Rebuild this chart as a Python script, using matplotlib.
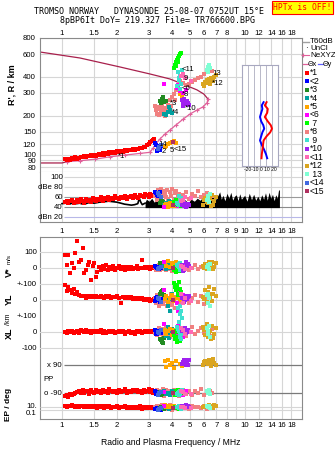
import matplotlib
matplotlib.use('Agg')
import matplotlib.pyplot as plt
import matplotlib.transforms as mtransforms
import matplotlib.ticker as mticker
from matplotlib.lines import Line2D

plt.rcParams['font.family'] = ['Liberation Sans', 'DejaVu Sans']

# ---------------------------------------------------------------- data
freq_ticks = [1, 1.5, 2, 3, 4, 5, 6, 7, 8, 9, 10, 12, 14, 16, 18]
freq_labels_edge = ['1', '1.5', '2', '3', '4', '5', '6', '7', '8', '', '10', '12', '14', '16', '18']
freq_labels_mid = ['1', '1.5', '2', '3', '4', '5', '6', '7', '8', '9', '10', '12', '14', '16', '18']
height_ticks = [80, 90, 100, 120, 150, 200, 300, 400, 600, 800]
tilt_ticks = [-20, -10, 0, 10, 20]
tilt_tick_text = '-20-10 0 10 20'

# model profile (upper branch), NeXYZ profile (lower branch) and base
prof_top_f = [0.758, 1.254, 2.077, 3.03, 3.90, 4.71, 5.48, 5.98, 6.30]
prof_top_h = [623, 560, 477, 421, 385, 346, 317, 294, 269]
prof_low_f = [6.30, 6.22, 5.91, 5.48, 5.02, 4.60, 4.20, 3.90, 3.66, 3.44, 3.27, 3.15,
              3.03, 2.67, 2.21, 1.83, 1.515, 1.254, 1.065]
prof_low_h = [269, 251, 234, 221, 206, 188, 169, 155, 144, 132, 121, 112,
              104, 102, 99, 96, 92, 89.5, 88]
prof_base_f = [0.758, 1.0, 1.065]
prof_base_h = [86, 86, 88]

# tilt inset
tilt_h = [254, 240, 225, 210, 195, 180, 168, 158, 148, 138, 128, 118, 108, 100, 93]
tilt_x = [11, 8, 13, 12, 8, 13, 18, 20, 17, 11, 6, 5, 4, 3, 2.5]
tilt_y = [6, 3, 4, 2, 0, 2, 5.5, 7, 4, 2, 0, 3, 7, 10, 12]

# noise (black) amplitude
noise_line_f = [1.0, 1.05, 1.1, 1.15, 1.2, 1.25, 1.3, 1.35, 1.4, 1.5, 1.6, 1.7, 1.8, 1.9,
                2.0, 2.1, 2.2, 2.3, 2.4, 2.5, 2.6, 2.65, 2.7, 2.75, 2.85]
noise_line_db = [47, 48, 46, 49, 47, 48, 46, 47, 49, 48, 50, 51, 52, 51,
                 50, 48, 46, 45, 44, 45, 47, 58, 50, 45, 48]
noise_fill_f = [2.85, 2.9, 3.0, 3.1, 3.2, 3.3, 3.4, 3.5, 3.7, 3.9, 4.1, 4.3, 4.5, 4.7, 4.9,
                5.1, 5.3, 5.5, 5.7, 5.9, 6.0, 6.1, 6.3, 6.5, 6.7, 6.9, 7.1, 7.3, 7.45,
                7.6, 7.8, 8.0, 8.2, 8.4, 8.6, 8.8, 9.0, 9.2, 9.4, 9.6, 9.8, 10.0, 10.3,
                10.6, 10.9, 11.2, 11.5, 11.8, 12.1, 12.4, 12.7, 13.0, 13.3, 13.6, 13.9,
                14.2, 14.5, 14.8, 15.1, 15.3, 15.5]
noise_fill_db = [50, 56, 52, 58, 50, 55, 49, 54, 50, 56,
                 49, 54, 50, 55, 49, 56, 52, 58, 54, 60,
                 68, 58, 64, 55, 66, 54, 62, 71, 56, 64,
                 53, 68, 58, 70, 54, 62, 65, 53, 67, 56,
                 60, 64, 52, 68, 55, 66, 54, 62, 53, 65,
                 56, 69, 54, 70, 58, 66, 53, 65, 58, 73,
                 76]
noise_floor_db = 39

# echo classes: frequency, height, amplitude, V*, YL, XL, PP, EP
f1 = [1.04, 1.06, 1.08, 1.11, 1.13, 1.16, 1.18, 1.21, 1.24, 1.27, 1.30, 1.32, 1.35,
      1.38, 1.41, 1.44, 1.47, 1.50, 1.53, 1.56, 1.60, 1.63, 1.67, 1.70, 1.74, 1.78,
      1.82, 1.86, 1.90, 1.95, 2.00, 2.05, 2.10, 2.15, 2.20, 2.26, 2.32, 2.38, 2.44,
      2.50, 2.56, 2.62, 2.68, 2.74, 2.80, 2.86, 2.92, 2.98, 3.04, 3.10, 3.15, 3.20]
h1 = [92, 90, 93, 91, 94, 92, 95, 93, 94, 96, 95, 97, 96, 98, 97, 99, 97, 100, 98, 99,
      101, 99, 102, 100, 103, 101, 104, 102, 105, 103, 106, 104, 107, 105, 108, 107,
      109, 108, 110, 109, 111, 110, 113, 112, 115, 114, 118, 121, 124, 127, 130, 133]
amp1 = [50, 53, 48, 52, 55, 49, 51, 54, 50, 56, 52, 49, 57, 53, 55, 51, 58, 54, 52, 57,
        55, 60, 53, 58, 56, 61, 55, 59, 57, 62, 58, 56, 61, 59, 63, 57, 60, 62, 58, 64,
        61, 59, 65, 62, 60, 66, 64, 61, 67, 63, 65, 62]
v1 = [81, 19, 81, -33, 29, 0, 92, 171, 40, 50, 123, -33, -12, 19, 40, -75, 10, 29, -54,
      -23, 8, -10, 15, -5, 20, -12, 5, -8, 10, -15, 0, 12, -6, 4, -10, 8, -4, 6, -8, 3,
      10, -5, 2, 50, -3, 6, 0, 8, -4, 5, 2, -2]
yl1 = [94, 55, 82, 62, 45, 70, 38, 48, 30, 25, 22, 28, 15, 24, 20, 26, 18, 22, 27, 16,
       20, 24, 18, 14, 22, 19, 25, 15, 21, 17, 23, 12, -20, 18, 14, 20, 10, 16, 8, 14,
       6, 12, 4, 10, 2, 8, 0, 6, -4, 3, -2, 5]
xl1 = [2, -6, 5, 0, 8, -4, 3, 6, -8, 10, 4, -2, 12, 0, 6, -5, 9, 2, -3, 7, 0, 11, -4, 5,
       -9, 3, 8, -1, 6, -6, 2, 9, -3, 4, -12, 1, 7, -7, 3, -15, 5, 0, 8, -4, 2, 6, -2,
       4, 0, 7, -3, 3]
pp1 = [-110, -100, -115, -95, -105, -98, -90, -85, -78, -92, -70, -88, -80, -75, -95,
       -68, -85, -90, -72, -82, -78, -88, -70, -84, -76, -92, -66, -80, -86, -74, -90,
       -70, -82, -78, -64, -88, -76, -84, -72, -80, -68, -86, -74, -90, -70, -82, -76,
       -66, -84, -72, -88, -78]
ep1 = [20, 12, 25, 15, 30, 18, 10, 22, 14, 28, 16, 9, 24, 12, 19, 8, 26, 13, 17, 7, 21,
       11, 15, 6, 23, 10, 18, 5, 14, 9, 20, 4, 12, 8, 16, 5, 11, 7, 13, 4, 10, 6, 15, 3,
       9, 5, 12, 4, 8, 6, 10, 5]

f2 = [3.27, 3.35, 3.44, 3.31, 3.40, 3.48, 3.23]
h2 = [119, 112, 108, 106, 117, 116, 123]
amp2 = [68, 62, 70, 64, 66, 59, 71]
v2 = [5, -3, 8, 0, -6, 3, 10]
yl2 = [15, 5, -10, 20, 0, 8, -5]
xl2 = [-10, 5, 0, -15, 8, -4, 12]
pp2 = [-95, -88, -100, -85, -92, -98, -80]
ep2 = [2, 3, 1.5, 4, 2.5, 1.2, 3]

f3 = [3.44, 3.53, 3.62, 3.49, 3.58, 3.70]
h3 = [259, 270, 255, 250, 279, 262]
amp3 = [48, 52, 45, 55, 50, 47]
v3 = [30, 22, 38, 15, 26, 10]
yl3 = [40, 55, 30, 48, 62, 20]
xl3 = [-45, -60, -38, -52, -68, -20]
pp3 = [-85, -95, -78, -100, -88, -92]
ep3 = [5, 8, 3, 12, 6, 4]

f4 = [3.62, 3.71, 3.81, 3.90, 4.00, 3.85]
h4 = [206, 203, 214, 221, 210, 234]
amp4 = [44, 48, 42, 50, 46, 53]
v4 = [12, -8, 25, 5, 18, -2]
yl4 = [60, 20, -40, -70, 35, 5]
xl4 = [10, -25, 30, -5, 20, -35]
pp4 = [-80, -96, -88, -104, -76, -90]
ep4 = [8, 15, 5, 20, 10, 3]

f5 = [3.66, 3.71, 3.81, 3.90, 4.00, 4.08, 4.20, 4.42, 4.54]
h5 = [114, 116, 121, 123, 125, 128, 123, 293, 284]
amp5 = [44, 46, 41, 48, 43, 45, 42, 50, 47]
v5 = [40, 15, 45, 5, 30, 20, 35, -5, 10]
yl5 = [5, 25, -15, 10, 30, -5, 15, 0, 20]
xl5 = [15, -10, 5, 20, -20, 10, 0, -8, 25]
pp5 = [115, 78, 125, 92, 105, 70, 118, 96, 85]
ep5 = [30, 12, 20, 8, 25, 15, 10, 18, 6]

f6 = [3.62, 4.26, 4.42, 4.30, 4.60, 4.75]
h6 = [352, 328, 310, 346, 300, 318]
amp6 = [40, 45, 48, 43, 52, 46]
v6 = [35, 10, -8, 20, 5, 28]
yl6 = [60, -20, 45, -70, 30, 10]
xl6 = [50, -15, 25, 40, -30, 5]
pp6 = [-84, -96, -76, -90, -100, -80]
ep6 = [15, 6, 22, 9, 4, 12]

f7 = [4.11, 4.15, 4.20, 4.26, 4.31, 4.37, 4.42, 4.48, 4.20, 4.31]
h7 = [468, 495, 523, 540, 559, 580, 601, 613, 486, 523]
amp7 = [50, 46, 53, 48, 44, 51, 47, 42, 55, 49]
v7 = [-10, 8, -25, 15, 0, -18, 22, 5, -5, 12]
yl7 = [105, 80, 60, 95, 40, 110, 70, 50, 88, 30]
xl7 = [-20, -45, 5, -60, -30, 10, -55, -10, -38, 0]
pp7 = [-88, -100, -80, -94, -72, -104, -86, -92, -78, -98]
ep7 = [6, 10, 4, 14, 8, 3, 12, 5, 9, 7]

f8 = [3.23, 3.27, 3.31, 3.35, 3.40, 3.44, 3.48, 3.53, 3.57, 3.62, 3.66, 3.71, 3.76,
      3.81, 3.90, 3.95, 4.00, 4.10, 4.15, 4.20, 4.31, 4.37, 4.42, 4.60, 4.77, 4.96,
      5.15, 5.35, 5.55, 5.76, 5.98, 6.22, 6.46, 6.63]
h8 = [238, 221, 207, 234, 203, 225, 214, 238, 207, 221, 199, 229, 214, 244, 264, 238,
      279, 296, 264, 317, 334, 352, 372, 359, 346, 352, 365, 378, 392, 400, 420, 436,
      460, 444]
amp8 = [62, 70, 55, 74, 66, 58, 77, 64, 52, 72, 68, 60, 75, 57, 71, 63, 76, 54, 69, 73,
        61, 66, 59, 64, 70, 56, 67, 62, 72, 60, 65, 68, 58, 63]
v8 = [5, -10, 12, -4, 18, -15, 8, 0, -8, 22, 3, -12, 10, -6, 15, 2, -18, 6, -2, 12,
      -10, 4, 20, -5, 9, -14, 1, 16, -8, 6, -3, 11, 0, -6]
yl8 = [10, -20, 30, 0, -35, 18, -10, 40, -25, 8, -5, 25, -40, 12, -15, 35, -30, 5, -50,
       20, -60, -20, 15, -8, 28, -18, 10, 32, -12, 22, -28, 14, 38, -6]
xl8 = [-5, 15, -20, 8, 25, -12, 0, 18, -28, 5, -15, 22, -8, 12, -30, 3, 20, -18, 10,
       -40, 6, 28, -10, 15, -22, 2, 30, -14, 8, 24, -6, 12, -25, 18]
pp8 = [-80, -95, -70, -105, -85, -75, -100, -90, -65, -110, -82, -72, -98, -88, -78,
       -104, -92, -68, -86, -96, -74, -108, -84, -70, -94, -80, -102, -76, -90, -66,
       -100, -86, -74, -92]
ep8 = [12, 4, 25, 8, 1.5, 18, 6, 30, 3, 10, 20, 2, 15, 5, 35, 9, 1, 22, 7, 14, 3, 28,
       11, 4, 16, 2, 24, 8, 13, 5, 19, 3, 10, 6]

f9 = [4.31, 4.42, 4.37, 4.48, 4.26, 4.54, 4.42, 4.35]
h9 = [436, 406, 378, 352, 337, 453, 322, 390]
amp9 = [47, 52, 44, 58, 49, 55, 45, 62]
v9 = [10, -12, 25, 0, 18, -6, 30, 5]
yl9 = [-50, -90, -140, -70, -180, -110, -40, -160]
xl9 = [20, -30, 5, -45, 30, -15, -5, 12]
pp9 = [-90, -78, -102, -86, -96, -70, -94, -84]
ep9 = [9, 5, 16, 3, 11, 7, 20, 4]

f10 = [4.54, 4.65, 4.77, 4.71, 4.60, 4.83, 4.90, 4.68, 4.95, 4.58]
h10 = [264, 255, 246, 260, 238, 259, 250, 270, 242, 250]
amp10 = [44, 48, 41, 46, 50, 43, 47, 42, 45, 49]
v10 = [20, -10, 35, 5, -20, 15, 28, -5, 10, 0]
yl10 = [10, -15, 25, 0, -20, 18, 5, -8, 28, 12]
xl10 = [5, 20, -5, 28, 10, -2, 15, 24, 0, 8]
pp10 = [98, 120, 92, 125, 106, 114, 88, 102, 122, 110]
ep10 = [25, 12, 30, 18, 10, 22, 15, 28, 8, 20]

f11 = [4.60, 4.71, 4.48, 5.10]
h11 = [420, 392, 406, 372]
amp11 = [55, 60, 52, 58]
v11 = [5, -8, 12, 0]
yl11 = [-20, 15, 40, -5]
xl11 = [10, -12, 22, 0]
pp11 = [-86, -94, -80, -98]
ep11 = [10, 6, 14, 4]

f12 = [5.91, 6.06, 6.22, 6.38, 6.54, 5.98, 6.30, 6.63, 6.80, 6.95, 6.70, 6.46]
h12 = [352, 365, 378, 385, 392, 340, 358, 378, 398, 410, 372, 350]
amp12 = [45, 58, 50, 62, 42, 55, 48, 65, 52, 60, 44, 56]
v12 = [10, 25, -5, 35, 15, 0, 20, 40, 5, 30, -8, 18]
yl12 = [20, 60, -10, 80, 35, 5, 50, -5, 70, 25, 40, 10]
xl12 = [30, -20, 50, 0, -45, 15, -30, 40, -10, 25, -40, 5]
pp12 = [92, 115, 100, 124, 84, 110, 96, 120, 105, 88, 128, 94]
ep12 = [12, 25, 8, 30, 18, 10, 22, 15, 35, 20, 6, 28]

f13 = [6.22, 6.30, 6.38, 6.46, 6.30]
h13 = [453, 477, 495, 468, 436]
amp13 = [55, 62, 50, 66, 58]
v13 = [5, 20, -5, 28, 12]
yl13 = [30, -20, 10, -40, 40]
xl13 = [25, -10, 40, -30, 5]
pp13 = [-78, -88, -70, -96, -82]
ep13 = [15, 8, 22, 5, 12]

f14 = [3.40, 3.49, 3.36]
h14 = [114, 119, 110]
amp14 = [65, 60, 68]
v14 = [0, 8, -5]
yl14 = [5, -10, 12]
xl14 = [-5, 10, 0]
pp14 = [-92, -84, -100]
ep14 = [2, 4, 1.5]

f15 = [4.05]
h15 = [126]
amp15 = [45]
v15 = [0]
yl15 = [0]
xl15 = [0]
pp15 = [-90]
ep15 = [5]

class_labels = ['*1', '<2', '*3', '*4', '*5', '<6', ' 7', '*8', ' 9', '*10', '<11',
                '*12', ' 13', '<14', '<15']
class_colors = ['#ff0000', '#0000ff', '#228b22', '#00a0a0', '#ffa500', '#ff00ff',
                '#00ff00', '#f08080', '#40e0d0', '#a020f0', '#ff69b4', '#daa520',
                '#7fffd4', '#4169e1', '#b03060']

echoes = [
    (f1, h1, amp1, v1, yl1, xl1, pp1, ep1), (f2, h2, amp2, v2, yl2, xl2, pp2, ep2),
    (f3, h3, amp3, v3, yl3, xl3, pp3, ep3), (f4, h4, amp4, v4, yl4, xl4, pp4, ep4),
    (f5, h5, amp5, v5, yl5, xl5, pp5, ep5), (f6, h6, amp6, v6, yl6, xl6, pp6, ep6),
    (f7, h7, amp7, v7, yl7, xl7, pp7, ep7), (f8, h8, amp8, v8, yl8, xl8, pp8, ep8),
    (f9, h9, amp9, v9, yl9, xl9, pp9, ep9), (f10, h10, amp10, v10, yl10, xl10, pp10, ep10),
    (f11, h11, amp11, v11, yl11, xl11, pp11, ep11), (f12, h12, amp12, v12, yl12, xl12, pp12, ep12),
    (f13, h13, amp13, v13, yl13, xl13, pp13, ep13), (f14, h14, amp14, v14, yl14, xl14, pp14, ep14),
    (f15, h15, amp15, v15, yl15, xl15, pp15, ep15),
]
draw_order = [0, 7, 1, 2, 3, 4, 5, 6, 8, 9, 10, 11, 12, 13, 14]

# trace labels in the height panel: (text, freq, height)
trace_labels = [('*1', 2.02, 97), ('14', 3.38, 120), ('2', 3.50, 105), ('5', 3.88, 108),
                ('<15', 4.08, 110), ('<11', 4.50, 455), ('9', 4.62, 390),
                ('<6', 4.54, 325), ('*8', 4.54, 293), ('*3', 3.88, 250),
                ('*4', 3.98, 212), ('*10', 4.71, 228), ('*12', 6.63, 355),
                ('13', 6.63, 425)]

# ---------------------------------------------------------------- layout
W, H = 335, 451
fig = plt.figure(figsize=(W / 100, H / 100), dpi=100)
fig.patch.set_facecolor('white')


def rect(x0, y0, x1, y1):
    return [x0 / W, 1 - y1 / H, (x1 - x0) / W, (y1 - y0) / H]


FMIN, FMAX = 0.758, 20.6
GRID = '#d6d6d6'
FRAME = '#8a8a8a'
TS = 5.6
MS = 2.5


def freq_axes(r):
    ax = fig.add_axes(r)
    ax.set_xscale('log')
    ax.set_xlim(FMIN, FMAX)
    ax.set_xticks(freq_ticks)
    ax.xaxis.set_minor_locator(mticker.NullLocator())
    ax.tick_params(length=0, labelsize=TS)
    for v in freq_ticks:
        ax.axvline(v, color=GRID, lw=0.8, zorder=0)
    for s in ax.spines.values():
        s.set_color(FRAME)
        s.set_linewidth(0.8)
    return ax


def overlay(r, ylim, log=False):
    ax = fig.add_axes(r)
    ax.set_xscale('log')
    if log:
        ax.set_yscale('log')
    ax.set_xlim(FMIN, FMAX)
    ax.set_ylim(*ylim)
    ax.axis('off')
    ax.patch.set_visible(False)
    return ax


# ---------------- height panel
ax1 = freq_axes(rect(40, 38, 302, 172))
ax1.set_yscale('log')
ax1.set_ylim(73.2, 800)
ax1.set_yticks(height_ticks)
ax1.set_yticklabels([str(v) for v in height_ticks])
ax1.yaxis.set_minor_locator(mticker.NullLocator())
ax1.tick_params(axis='y', pad=3)
ax1.xaxis.tick_top()
ax1.set_xticklabels(freq_labels_edge)
ax1.tick_params(axis='x', pad=1)
ax1.spines['bottom'].set_color('#c8c8c8')
for v in height_ticks:
    ax1.axhline(v, color=GRID, lw=0.8, zorder=0)

ax1.plot(prof_top_f, prof_top_h, color='#a8204c', lw=0.9, zorder=2)
ax1.plot(prof_base_f, prof_base_h, color='#a8204c', lw=0.9, zorder=2)
ax1.plot(prof_low_f, prof_low_h, color='#e0609a', lw=0.9, marker='+', ms=3.2,
         mew=0.8, zorder=2)
for i in draw_order:
    e = echoes[i]
    ax1.plot(e[0], e[1], 's', ms=MS, mew=0, color=class_colors[i], zorder=3)
for t, fx, hy in trace_labels:
    ax1.text(fx, hy, t, fontsize=5.6, color='black', va='center', ha='left', zorder=5)
fig.text(12 / W, 1 - 85 / H, "R', R / km", rotation=90, ha='center', va='center',
         fontsize=6.5, fontweight='bold')

# tilt inset
axt = fig.add_axes(rect(242, 65, 278, 166))
axt.set_yscale('log')
axt.set_ylim(81, 494)
axt.set_xlim(-30, 30)
axt.set_yticks([])
axt.set_xticks([])
axt.yaxis.set_minor_locator(mticker.NullLocator())
axt.xaxis.set_minor_locator(mticker.NullLocator())
for v in tilt_ticks:
    axt.axvline(v, color='#b8b8c8', lw=0.7, zorder=0)
for s in axt.spines.values():
    s.set_color('#a8a8c0')
    s.set_linewidth(0.8)
axt.text(0.5, -0.01, tilt_tick_text, transform=axt.transAxes, ha='center', va='top',
         fontsize=3.6)
axt.text(0.5, -0.055, 'Tilt / deg', transform=axt.transAxes, ha='center', va='top',
         fontsize=4.3)
axt.plot(tilt_y, tilt_h, color='#0000ff', lw=1.4)
axt.plot(tilt_x, tilt_h, color='#ff0000', lw=1.4)

# ---------------- amplitude panel
axa = freq_axes(rect(40, 172, 302, 222))
axa.set_ylim(9.9, 111.1)
axa.set_yticks([])
axa.spines['top'].set_visible(False)
axa.set_xticklabels(freq_labels_mid)
axa.tick_params(axis='x', pad=4)
for v, c in [(100, GRID), (80, GRID), (60, '#9a9a9a'), (40, '#8a8a8a'), (20, '#b8b8e8')]:
    axa.hlines(v, 1.03, FMAX, color=c, lw=0.8, zorder=1)
axa.fill_between(noise_fill_f, noise_floor_db, noise_fill_db, color='black', lw=0, zorder=2)
axa.plot(noise_line_f, noise_line_db, color='black', lw=1.2, zorder=2)
for i in draw_order:
    e = echoes[i]
    axa.plot(e[0], e[2], 's', ms=MS, mew=0, color=class_colors[i], zorder=3)
ta = mtransforms.blended_transform_factory(fig.transFigure, axa.transData)
for v, t in [(100, '100'), (80, 'dBe 80'), (60, '60'), (40, '40'), (20, 'dBn 20')]:
    axa.text(63 / W, v, t, transform=ta, ha='right', va='center', fontsize=TS, zorder=4)

# ---------------- motion / polarisation panel
R2 = rect(40, 237, 302, 419)
ax2 = freq_axes(R2)
ax2.set_yticks([])
ax2.set_xticklabels(freq_labels_edge)
ax2.tick_params(axis='x', pad=2.5)
ax2.set_xlabel('Radio and Plasma Frequency / MHz', fontsize=6.2, labelpad=6)

axv = overlay(R2, (-943.75, 193.75))
axyl = overlay(R2, (-743.75, 393.75))
axxl = overlay(R2, (-543.75, 593.75))
axpp = overlay(R2, (-257.1, 912.9))
axep = overlay(rect(40, 398, 302, 419), (10 ** -2.692, 10 ** 3.769), log=True)

for v in [100, 0, -100]:
    axv.axhline(v, color=GRID, lw=0.8, zorder=1)
axyl.axhline(0, color=GRID, lw=0.8, zorder=1)
axxl.axhline(0, color=GRID, lw=0.8, zorder=1)
axxl.axhline(-100, color=GRID, lw=0.8, zorder=1)
axpp.hlines([90, -90], 1.03, FMAX, color='#7a7a7a', lw=0.9, zorder=1)
axep.hlines([10, 1], FMIN, FMAX, color=GRID, lw=0.8, zorder=1)

for i in draw_order:
    e = echoes[i]
    c = class_colors[i]
    axv.plot(e[0], e[3], 's', ms=MS, mew=0, color=c, zorder=3)
    axyl.plot(e[0], e[4], 's', ms=MS, mew=0, color=c, zorder=3)
    axxl.plot(e[0], e[5], 's', ms=MS, mew=0, color=c, zorder=3)
    axpp.plot(e[0], e[6], 's', ms=MS, mew=0, color=c, zorder=3)
    axep.plot(e[0], e[7], 's', ms=MS, mew=0, color=c, zorder=3, clip_on=False)


def left_labels(ax, items, x_px, ha='right'):
    tr = mtransforms.blended_transform_factory(fig.transFigure, ax.transData)
    for v, t in items:
        ax.text(x_px / W, v, t, transform=tr, ha=ha, va='center', fontsize=TS, zorder=4)


left_labels(axv, [(100, '100'), (0, '0'), (-100, '+-100')], 37)
left_labels(axyl, [(0, '0'), (-100, '+-100')], 37)
left_labels(axxl, [(0, '0'), (-100, '-100')], 37)
left_labels(axpp, [(90, 'x 90'), (-90, 'o -90')], 62)
left_labels(axpp, [(0, 'PP')], 43, ha='left')
left_labels(axep, [(10, '10.'), (0.1, '0.1')], 37)

fig.text(9 / W, 1 - 272 / H, 'V*', rotation=90, ha='center', va='center', fontsize=6.5,
         fontweight='bold')
fig.text(9 / W, 1 - 259 / H, 'm/s', rotation=90, ha='center', va='center', fontsize=4.5)
fig.text(9 / W, 1 - 299 / H, 'YL', rotation=90, ha='center', va='center', fontsize=6.5,
         fontweight='bold')
fig.text(9 / W, 1 - 319 / H, '/km', rotation=90, ha='center', va='center', fontsize=5)
fig.text(9 / W, 1 - 333 / H, 'XL', rotation=90, ha='center', va='center', fontsize=6.5,
         fontweight='bold')
fig.text(9 / W, 1 - 404 / H, 'EP / deg', rotation=90, ha='center', va='center',
         fontsize=6, fontweight='bold')

# ---------------- titles
fig.text(149 / W, 1 - 12 / H, 'TROMSO NORWAY   DYNASONDE 25-08-07 0752UT 15°E',
         family='DejaVu Sans Mono', fontsize=6, ha='center', va='center')
fig.text(157 / W, 1 - 20.5 / H, '8pBP6It DoY= 219.327 File= TR766600.BPG',
         family='DejaVu Sans Mono', fontsize=6, ha='center', va='center')
fig.text(302.5 / W, 1 - 7.5 / H, 'HPTx is OFF!', family='DejaVu Sans Mono', fontsize=5.8,
         color='red', ha='center', va='center',
         bbox=dict(facecolor='#ffff00', edgecolor='red', boxstyle='square,pad=0.2', lw=0.8))

# ---------------- legend (right side)
def px(x, y):
    return x / W, 1 - y / H


LS = 5.8
fig.add_artist(Line2D([303 / W, 309 / W], [1 - 41.7 / H] * 2, color='#a0a0a0', lw=1))
fig.text(*px(310, 41.7), 'T60dB', fontsize=LS, va='center')
fig.text(*px(306, 48.7), '·', fontsize=LS, va='center', ha='center')
fig.text(*px(310, 48.7), 'UnCl', fontsize=LS, va='center')
fig.add_artist(Line2D([303 / W, 309 / W], [1 - 55.3 / H] * 2, color='#e0609a', lw=0.8,
                      marker='+', markevery=[0], ms=3.5, mew=0.8))
fig.text(*px(310, 55.3), 'NeXYZ', fontsize=LS, va='center')
fig.add_artist(Line2D([303 / W, 308 / W], [1 - 64 / H] * 2, color='#e0609a', lw=0.9))
fig.text(*px(308, 64), 'Θx', fontsize=5.2, va='center')
fig.add_artist(Line2D([318 / W, 323 / W], [1 - 64 / H] * 2, color='#6060ff', lw=0.9))
fig.text(*px(323, 64), 'Θy', fontsize=5.2, va='center')
for k, (lab, col) in enumerate(zip(class_labels, class_colors)):
    yk = 72.7 + 8.45 * k
    fig.add_artist(Line2D([306.5 / W], [1 - yk / H], marker='s', ms=2.4, mew=0, color=col,
                          ls='none'))
    fig.text(*px(310, yk), lab, fontsize=6.2, va='center')

fig.savefig('out.png', dpi=100)
